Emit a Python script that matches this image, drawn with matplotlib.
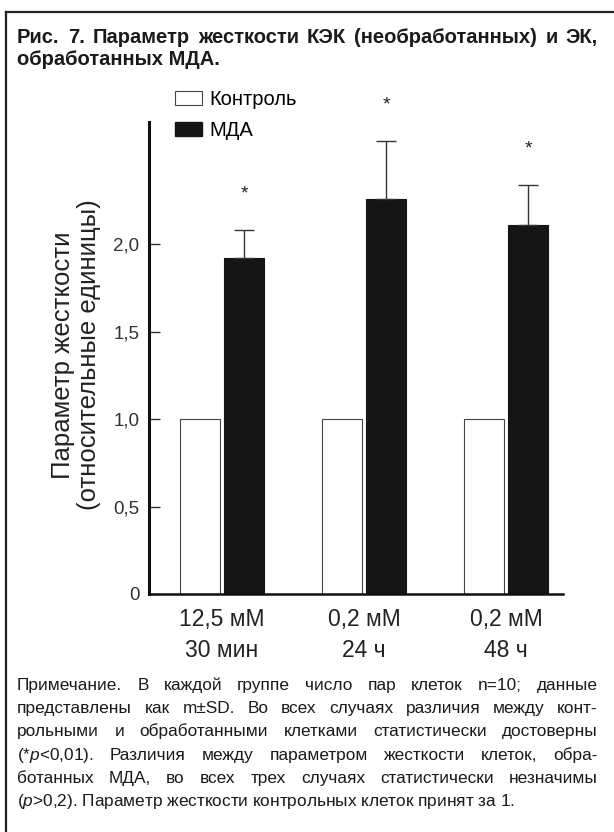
import matplotlib
matplotlib.use('Agg')
import matplotlib.pyplot as plt
from matplotlib.patches import Patch
from matplotlib.lines import Line2D
import numpy as np

# ---------------- data ----------------
categories = ["12,5 мМ\n30 мин", "0,2 мМ\n24 ч", "0,2 мМ\n48 ч"]
control = [1.0, 1.0, 1.0]
mda = [1.92, 2.26, 2.11]
mda_sd = [0.16, 0.33, 0.23]
sig_marks = ["*", "*", "*"]
series_labels = ["Контроль", "МДА"]
ytick_values = [0, 0.5, 1.0, 1.5, 2.0]
ytick_labels = ["0", "0,5", "1,0", "1,5", "2,0"]
ylabel = "Параметр жесткости\n(относительные единицы)"
title_lines = ["Рис. 7. Параметр жесткости КЭК (необработанных) и ЭК,",
               "обработанных МДА."]
note_lines = ["Примечание. В каждой группе число пар клеток n=10; данные",
              "представлены как m±SD. Во всех случаях различия между конт-",
              "рольными и обработанными клетками статистически достоверны",
              "(*$p$<0,01). Различия между параметром жесткости клеток, обра-",
              "ботанных МДА, во всех трех случаях статистически незначимы",
              "($p$>0,2). Параметр жесткости контрольных клеток принят за 1."]

plt.rcParams['font.family'] = ['Liberation Sans', 'DejaVu Sans']
plt.rcParams['mathtext.fontset'] = 'custom'
plt.rcParams['mathtext.it'] = 'Liberation Sans:italic'
plt.rcParams['mathtext.rm'] = 'Liberation Sans'

W, H = 614, 832
fig = plt.figure(figsize=(W / 100, H / 100), dpi=100)
fig.patch.set_facecolor('white')

# ---------------- chart ----------------
ax = fig.add_axes([149 / W, 1 - 594 / H, (563 - 149) / W, (594 - 122) / H])
x = np.arange(len(categories))
w = 0.28
off = 0.155
ax.bar(x - off, control, w, color='white', edgecolor='#444444', linewidth=0.8, zorder=2)
ax.bar(x + off, mda, w, color='#151515', edgecolor='#151515', linewidth=0.8,
       yerr=[np.zeros(len(mda)), mda_sd], capsize=7,
       error_kw=dict(ecolor='#333333', elinewidth=1.0, capthick=1.0), zorder=2)
for i, m in enumerate(sig_marks):
    ax.annotate(m, xy=(x[i] + off, mda[i] + mda_sd[i]), xytext=(0, 23),
                textcoords='offset points', ha='center', va='baseline',
                fontsize=14, color='#222222', annotation_clip=False)

ax.set_ylim(0, 2.70)
ax.set_xlim(-0.514, 2.401)
ax.spines[['top', 'right']].set_visible(False)
ax.spines['left'].set_linewidth(2.2)
ax.spines['bottom'].set_linewidth(1.8)
ax.spines['left'].set_color('#111111')
ax.spines['bottom'].set_color('#111111')
ax.set_yticks(ytick_values)
ax.set_yticklabels(ytick_labels)
ax.tick_params(axis='y', direction='in', length=8, width=1, pad=7,
               labelsize=13.5, labelcolor='#333333', color='#333333')
ax.set_xticks(x)
ax.set_xticklabels(categories)
ax.tick_params(axis='x', length=0, pad=10, labelsize=16.5, labelcolor='#222222')
for lbl in ax.get_xticklabels():
    lbl.set_linespacing(1.45)

fig.text(76 / W, 1 - 355 / H, ylabel, rotation=90, ha='center', va='center',
         fontsize=18.5, multialignment='center', linespacing=1.1, color='#222222')

handles = [Patch(facecolor='white', edgecolor='#444444', linewidth=0.8),
           Patch(facecolor='#151515', edgecolor='#151515')]
fig.legend(handles, series_labels, loc='upper left', bbox_to_anchor=(175 / W, 1 - 90 / H),
           frameon=False, fontsize=14.5, handlelength=1.35, handleheight=0.7,
           handletextpad=0.35, labelspacing=0.6, borderpad=0, borderaxespad=0)

# ---------------- frame ----------------
fig.add_artist(Line2D([6 / W, 6 / W], [0, 1 - 12 / H], transform=fig.transFigure,
                      color='#222222', linewidth=1.6))
fig.add_artist(Line2D([6 / W, 1], [1 - 12 / H, 1 - 12 / H], transform=fig.transFigure,
                      color='#222222', linewidth=1.6))

# ---------------- justified text ----------------
renderer = fig.canvas.get_renderer()
X0, X1 = 17, 598


def place_line(text, y_px, justify, fontsize, weight='normal'):
    if not justify:
        fig.text(X0 / W, 1 - y_px / H, text, fontsize=fontsize, weight=weight,
                 ha='left', va='baseline', color='#1a1a1a')
        return
    words = text.split(' ')
    objs = [fig.text(0, 1 - y_px / H, wd, fontsize=fontsize, weight=weight,
                     ha='left', va='baseline', color='#1a1a1a') for wd in words]
    widths = [o.get_window_extent(renderer).width for o in objs]
    gap = (X1 - X0 - sum(widths)) / max(len(words) - 1, 1)
    xp = X0
    for o, wd in zip(objs, widths):
        o.set_x(xp / W)
        xp += wd + gap


place_line(title_lines[0], 43, True, 14.5, 'bold')
place_line(title_lines[1], 65, False, 14.5, 'bold')

note_y = [690, 713, 736, 760, 783, 806]
for i, (ln, yy) in enumerate(zip(note_lines, note_y)):
    place_line(ln, yy, i < len(note_lines) - 1, 12.4)

fig.savefig('out.png', dpi=100, facecolor='white')
